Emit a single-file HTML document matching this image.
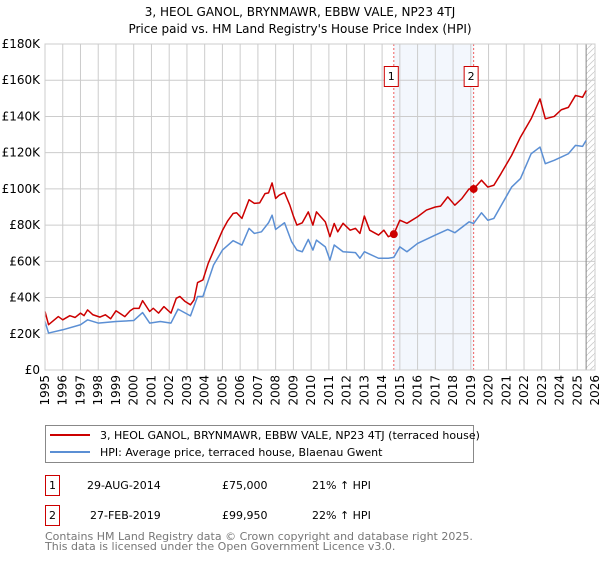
<!DOCTYPE html>
<html><head><meta charset="utf-8"><style>
body{margin:0;background:#fff;font-family:"DejaVu Sans","Liberation Sans",sans-serif;}
svg text{font-family:"DejaVu Sans","Liberation Sans",sans-serif;}
</style></head><body>
<svg id="chart" width="600" height="560" xmlns="http://www.w3.org/2000/svg">
<text x="300" y="16" text-anchor="middle" font-size="12">3, HEOL GANOL, BRYNMAWR, EBBW VALE, NP23 4TJ</text>
<text x="300" y="33" text-anchor="middle" font-size="12">Price paid vs. HM Land Registry's House Price Index (HPI)</text>
<g id="plot"></g>
<g>
<rect x="45.5" y="425.5" width="428" height="37" fill="#fff" stroke="#888"/>
<line x1="50" y1="435" x2="90" y2="435" stroke="#cc0000" stroke-width="2"/>
<text x="100" y="439" font-size="11">3, HEOL GANOL, BRYNMAWR, EBBW VALE, NP23 4TJ (terraced house)</text>
<line x1="50" y1="452" x2="90" y2="452" stroke="#5b8fd4" stroke-width="2"/>
<text x="100" y="456" font-size="11">HPI: Average price, terraced house, Blaenau Gwent</text>
</g>
<g font-size="11">
<rect x="45.5" y="475.5" width="14" height="20" fill="#fff" stroke="#cc0000"/>
<text x="52.5" y="489" text-anchor="middle">1</text>
<text x="87" y="489">29-AUG-2014</text><text x="222" y="489">£75,000</text><text x="312" y="489">21% ↑ HPI</text>
<rect x="45.5" y="505.5" width="14" height="20" fill="#fff" stroke="#cc0000"/>
<text x="52.5" y="519" text-anchor="middle">2</text>
<text x="90" y="519">27-FEB-2019</text><text x="222" y="519">£99,950</text><text x="312" y="519">22% ↑ HPI</text>
</g>
<text x="45" y="540" font-size="11" fill="#777">Contains HM Land Registry data © Crown copyright and database right 2025.</text>
<text x="45" y="550" font-size="11" fill="#777">This data is licensed under the Open Government Licence v3.0.</text>
</svg>
<script>
const yTicks=[0,20,40,60,80,100,120,140,160,180];
const yLabels=["£0","£20K","£40K","£60K","£80K","£100K","£120K","£140K","£160K","£180K"];
const xYears=[1995,1996,1997,1998,1999,2000,2001,2002,2003,2004,2005,2006,2007,2008,2009,2010,2011,2012,2013,2014,2015,2016,2017,2018,2019,2020,2021,2022,2023,2024,2025,2026];
const redX=[1995.0,1995.2,1995.75,1996.0,1996.4,1996.7,1997.0,1997.2,1997.4,1997.7,1998.1,1998.4,1998.7,1999.0,1999.5,1999.8,2000.0,2000.3,2000.5,2000.9,2001.1,2001.4,2001.7,2002.1,2002.4,2002.6,2002.9,2003.2,2003.4,2003.6,2003.9,2004.2,2004.6,2005.0,2005.3,2005.6,2005.8,2006.1,2006.5,2006.8,2007.1,2007.4,2007.6,2007.8,2008.0,2008.2,2008.5,2008.8,2009.0,2009.2,2009.5,2009.84,2010.1,2010.3,2010.8,2011.06,2011.3,2011.5,2011.8,2012.2,2012.5,2012.75,2013.0,2013.3,2013.8,2014.1,2014.35,2014.66,2015.0,2015.4,2016.0,2016.5,2017.0,2017.3,2017.7,2018.1,2018.5,2018.9,2019.16,2019.6,2019.96,2020.3,2020.7,2021.3,2021.8,2022.4,2022.9,2023.2,2023.7,2024.1,2024.5,2024.9,2025.3,2025.5];
const redV=[32.3,25,29.5,27.7,30,29,31.4,30,33.2,30.5,29.2,30.5,28.3,32.7,29.5,32.7,34,34,38.3,32.3,34.1,31.4,35,31.4,39.6,40.6,37.8,36,38.7,48.3,49.7,58.9,68,77,82.4,86.4,86.8,83.7,94,92,92.3,97.4,97.8,103.3,94.7,96.5,98,91,85,80,81.3,87.3,80,87.3,81.8,73.6,80.9,76.3,81,77.2,78.2,75.4,85,77.2,74.5,77.2,73.6,75,82.7,81,84.6,88.3,90,90.5,95.6,91,94.7,100,99.95,104.8,101,102,108.4,118.5,128.6,138.7,149.7,138.7,140,143.7,145,151.6,150.6,154.3];
const blueX=[1995.0,1995.2,1996.0,1997.0,1997.4,1998.0,1999.0,2000.0,2000.5,2000.9,2001.5,2002.1,2002.5,2003.2,2003.6,2003.9,2004.5,2005.0,2005.6,2006.1,2006.5,2006.8,2007.2,2007.6,2007.8,2008.0,2008.5,2008.9,2009.2,2009.5,2009.84,2010.1,2010.3,2010.8,2011.06,2011.3,2011.8,2012.5,2012.75,2013.0,2013.8,2014.35,2014.66,2015.0,2015.4,2016.0,2017.0,2017.7,2018.1,2018.9,2019.16,2019.6,2019.96,2020.3,2021.3,2021.8,2022.4,2022.9,2023.2,2023.7,2024.1,2024.5,2024.9,2025.3,2025.5];
const blueV=[26.8,20.4,22.2,25,27.7,25.9,26.8,27.3,31.7,25.9,26.8,25.9,33.6,29.9,40.6,40.6,58,66.2,71.4,69,78.2,75.4,76.3,81.3,85.5,77.6,81.3,70.8,66.2,65.3,72.1,66.2,71.7,68,60.7,69,65.3,64.8,61.7,65.3,61.7,61.7,62.2,68,65.3,69.9,74.5,77.6,75.8,81.8,80.9,86.8,82.7,83.7,101,105.7,119.4,123.1,113.9,115.8,117.6,119.4,124,123.5,126.8];
const saleX=[2014.66,2019.16];
const saleV=[75,99.95];
const saleLabels=["1","2"];

const NS="http://www.w3.org/2000/svg";
const L=45,R=595,T=44,B=370;
const xs=y=>L+(y-1995)*(R-L)/31;
const ys=v=>B-v*(B-T)/180;
const g=document.getElementById('plot');
function mk(t,a,p){const e=document.createElementNS(NS,t);for(const k in a)e.setAttribute(k,a[k]);(p||g).appendChild(e);return e;}
// shading
const sh=mk('rect',{x:xs(saleX[0]),y:T,width:xs(saleX[1])-xs(saleX[0]),height:B-T,fill:'#eef3fc',opacity:0.7});


// hatch
const defs=mk('defs',{});
const pat=mk('pattern',{id:'hatch',width:6,height:6,patternUnits:'userSpaceOnUse'},defs);
mk('path',{d:'M0,6 L6,0',stroke:'#ccc','stroke-width':0.8},pat);
const ht=mk('rect',{x:xs(2025.5),y:T,width:R-xs(2025.5),height:B-T,fill:'url(#hatch)'});


// grid
yTicks.forEach((v,i)=>{
  const l=mk('line',{x1:L,x2:R,y1:ys(v),y2:ys(v),stroke:'#ccc','stroke-width':1});
  
  
  const t=mk('text',{x:L-5,y:ys(v)+4,'text-anchor':'end','font-size':12});
  t.textContent=yLabels[i];
  
  
});
xYears.forEach(yr=>{
  const l=mk('line',{x1:xs(yr),x2:xs(yr),y1:T,y2:B,stroke:'#ccc','stroke-width':1});
  
  
  const x=xs(yr),y=B+5;
  const t=mk('text',{x:x+4,y:y,'text-anchor':'end','font-size':12,transform:`rotate(-90 ${x+4} ${y})`});
  t.textContent=yr;
  
  
});
mk('line',{x1:xs(2025.5),x2:xs(2025.5),y1:T,y2:B,stroke:'#888','stroke-width':1});
// sale vlines
saleX.forEach((sx,i)=>{
  const l=mk('line',{x1:xs(sx),x2:xs(sx),y1:T,y2:B,stroke:'#f06060','stroke-width':1,'stroke-dasharray':'2,2'});
  
  
});
function line(X,V,c,name){
  const p=mk('polyline',{points:X.map((x,i)=>xs(x)+','+ys(V[i])).join(' '),fill:'none',stroke:c,'stroke-width':1.5,'stroke-linejoin':'round'});
  
  
}
line(blueX,blueV,'#5b8fd4','hpi-line');
line(redX,redV,'#cc0000','price-paid-line');
saleX.forEach((sx,i)=>{
  const d=mk('circle',{cx:xs(sx),cy:ys(saleV[i]),r:4,fill:'#cc0000'});
  
  
  const bx=xs(sx)-9;
  const r=mk('rect',{x:bx-0.5,y:66.5,width:14,height:20,fill:'#fff',stroke:'#cc0000'});
  
  
  const t=mk('text',{x:bx+6.5,y:80,'text-anchor':'middle','font-size':11});
  t.textContent=saleLabels[i];
  
  
});
const fr=mk('rect',{x:L,y:T,width:R-L,height:B-T,fill:'none',stroke:'#ccc'});
</script>
</body></html>
